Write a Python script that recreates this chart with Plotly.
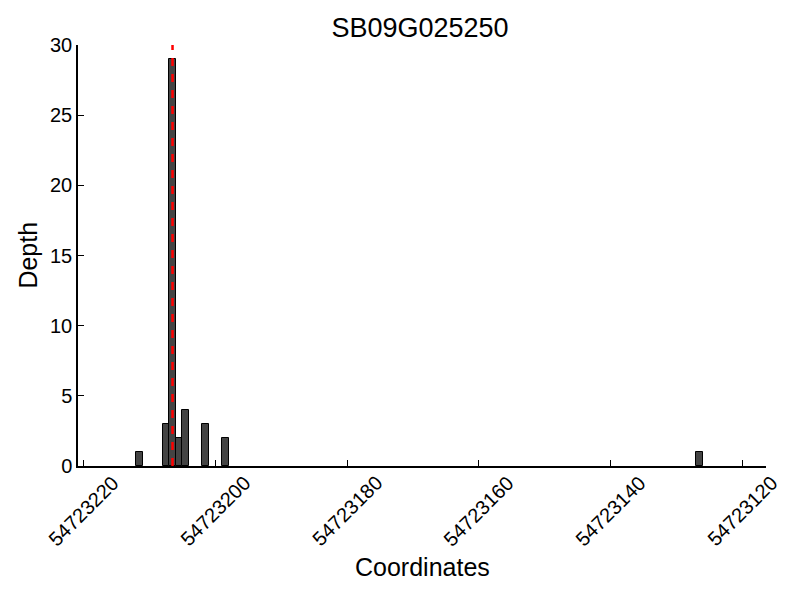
import plotly.graph_objects as go

# read positions (bar start coordinate) and depth
positions = [54723211, 54723207, 54723206, 54723205, 54723204, 54723201, 54723198, 54723126]
depths = [1, 3, 29, 2, 4, 3, 2, 1]
site = 54723206.5
x_ticks = [54723220, 54723200, 54723180, 54723160, 54723140, 54723120]
y_ticks = [0, 5, 10, 15, 20, 25, 30]

font = "Liberation Sans, Arial, sans-serif"

fig = go.Figure()
fig.add_trace(
    go.Bar(
        x=positions,
        y=depths,
        width=1,
        offset=0,
        marker=dict(color="#444444", line=dict(color="black", width=1)),
        showlegend=False,
    )
)
fig.add_trace(
    go.Scatter(
        x=[site, site],
        y=[0, 30],
        mode="lines",
        line=dict(color="red", width=2.5, dash="8px,8px"),
        showlegend=False,
    )
)

# rotated tick labels centred on the ticks (matplotlib style)
for t in x_ticks:
    fig.add_annotation(
        x=t, xref="x", y=-0.107, yref="paper",
        text=str(t), textangle=-45, showarrow=False,
        xanchor="center", yanchor="middle", font=dict(size=20),
    )

fig.add_annotation(
    x=0.5, xref="paper", y=-0.24, yref="paper",
    text="Coordinates", showarrow=False,
    xanchor="center", yanchor="middle", font=dict(size=25),
)
fig.add_annotation(
    x=-0.074, xref="paper", y=0.5, yref="paper",
    text="Depth", textangle=-90, showarrow=False,
    xanchor="center", yanchor="middle", font=dict(size=25),
)

fig.update_layout(
    width=800,
    height=600,
    plot_bgcolor="white",
    paper_bgcolor="white",
    margin=dict(l=70, r=42, t=37, b=142),
    font=dict(family=font, size=20, color="black"),
    title=dict(text="SB09G025250", x=0.515, xanchor="center", y=0.967, yanchor="middle",
               font=dict(size=27)),
    bargap=0,
)
fig.update_xaxes(
    range=[54723220.85, 54723116.4],
    tickvals=x_ticks,
    showticklabels=False,
    ticks="inside",
    ticklen=6,
    tickcolor="black",
    showline=True,
    linecolor="black",
    linewidth=1.5,
    showgrid=False,
    zeroline=False,
    automargin=False,
)
fig.update_yaxes(
    range=[0, 30],
    tickvals=y_ticks,
    ticks="inside",
    ticklen=6,
    tickcolor="black",
    showline=True,
    linecolor="black",
    linewidth=1.5,
    showgrid=False,
    zeroline=False,
    automargin=False,
)

fig.write_html("out.html")
